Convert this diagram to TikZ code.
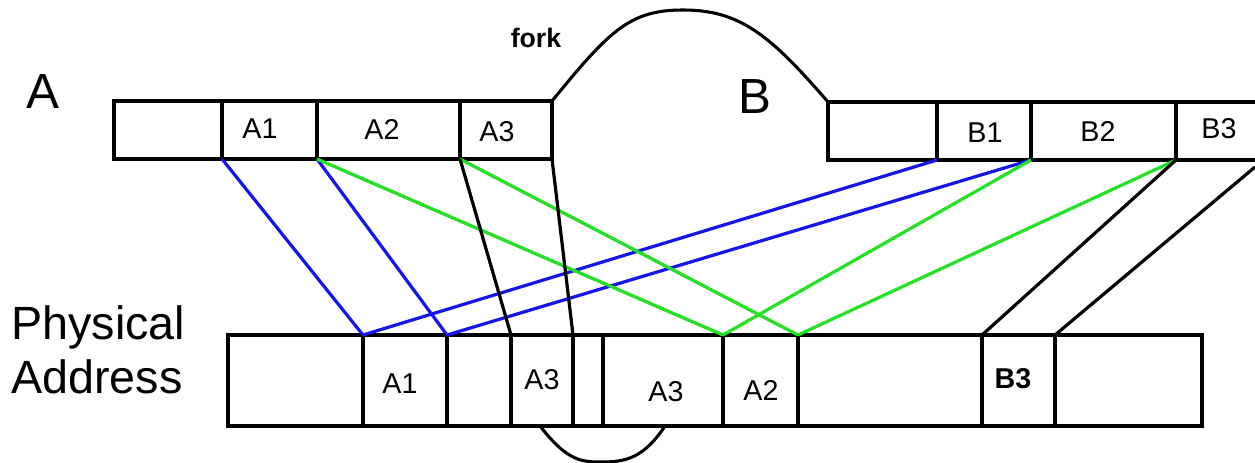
\documentclass[tikz,border=0pt]{standalone}
\usepackage{fontspec}
\setmainfont{Liberation Sans}
\definecolor{mapblue}{RGB}{20,20,235}
\definecolor{mapgreen}{RGB}{35,225,35}
\begin{document}
\begin{tikzpicture}[x=0.75pt,y=-0.75pt,
  cell/.style={draw,line width=2.7pt,inner sep=0pt,outer sep=0pt,anchor=north west},
  celltext/.style={inner sep=0pt,font=\fontsize{21.5}{24}\selectfont},
  bigtext/.style={inner sep=0pt,font=\fontsize{37}{40}\selectfont},
  blueline/.style={draw=mapblue,line width=2.4pt},
  greenline/.style={draw=mapgreen,line width=2.4pt},
  blackline/.style={draw=black,line width=2.4pt},
  shadowline/.style={draw=black,line width=1.8pt},
  forkline/.style={draw=black,line width=2.3pt}]
\clip (0,0) rectangle (1255,463);

% virtual pages of process A
\node[cell,minimum width=108pt*0.75,minimum height=58pt*0.75] (a0) at (114,101) {};
\node[cell,minimum width=95pt*0.75,minimum height=58pt*0.75] (a1) at (222,101) {};
\node[cell,minimum width=143pt*0.75,minimum height=58pt*0.75] (a2) at (317,101) {};
\node[cell,minimum width=92pt*0.75,minimum height=58pt*0.75] (a3) at (460,101) {};

% virtual pages of process B
\node[cell,minimum width=109pt*0.75,minimum height=58pt*0.75] (b0) at (828,102) {};
\node[cell,minimum width=94pt*0.75,minimum height=58pt*0.75] (b1) at (937,102) {};
\node[cell,minimum width=145pt*0.75,minimum height=58pt*0.75] (b2) at (1031,102) {};
\node[cell,minimum width=100pt*0.75,minimum height=58pt*0.75] (b3) at (1176,102) {};

% physical frames
\node[cell,minimum width=135pt*0.75,minimum height=91pt*0.75] (p0) at (228,335) {};
\node[cell,minimum width=84pt*0.75,minimum height=91pt*0.75] (p1) at (363,335) {};
\node[cell,minimum width=64pt*0.75,minimum height=91pt*0.75] (p2) at (447,335) {};
\node[cell,minimum width=62pt*0.75,minimum height=91pt*0.75] (p3) at (511,335) {};
\node[cell,minimum width=30pt*0.75,minimum height=91pt*0.75] (p4) at (573,335) {};
\node[cell,minimum width=120pt*0.75,minimum height=91pt*0.75] (p5) at (603,335) {};
\node[cell,minimum width=75pt*0.75,minimum height=91pt*0.75] (p6) at (723,335) {};
\node[cell,minimum width=184pt*0.75,minimum height=91pt*0.75] (p7) at (798,335) {};
\node[cell,minimum width=73pt*0.75,minimum height=91pt*0.75] (p8) at (982,335) {};
\node[cell,minimum width=147pt*0.75,minimum height=91pt*0.75] (p9) at (1055,335) {};

% page labels
\node[celltext] (ta1) at (260,129) {A1};
\node[celltext] (ta2) at (382,129) {A2};
\node[celltext] (ta3) at (497,132) {A3};
\node[celltext] (tb1) at (985,133) {B1};
\node[celltext] (tb2) at (1098,131) {B2};
\node[celltext] (tb3) at (1219,129) {B3};
\node[celltext] (tp1) at (400,384) {A1};
\node[celltext] (tp3) at (542,380) {A3};
\node[celltext] (tp5) at (666,392) {A3};
\node[celltext] (tp6) at (761,390) {A2};
\node[celltext,font=\fontsize{21.5}{24}\selectfont\bfseries] (tp8) at (1013,379) {B3};

% titles
\node[bigtext] (titleA) at (43,92) {A};
\node[bigtext] (titleB) at (755,97) {B};
\node[inner sep=0pt,anchor=base west,font=\fontsize{35}{40}\selectfont] (phys) at (11,339) {Physical};
\node[inner sep=0pt,anchor=base west,font=\fontsize{35}{40}\selectfont] (addr) at (11,393) {Address};
\node[inner sep=0pt,font=\fontsize{20}{24}\selectfont\bfseries] (fork) at (536,38) {fork};

% fork arc joining the two address spaces
\draw[forkline] (a3.north east) .. controls (610,30) and (630,10) .. (683,10)
  .. controls (740,10) and (770,35) .. (b0.north west);
% arc joining the two frames holding A3
\draw[forkline] (540,426) .. controls (568,462) and (582,462) .. (603,462)
  .. controls (628,462) and (645,456) .. (665,426);

% mappings of A1 and B1 (shared frame), A2 and B2
\draw[blueline] (a1.south west) -- (p1.north west);
\draw[blueline] (a2.south west) -- (p2.north west);
\draw[blueline] (b1.south west) -- (p1.north west);
\draw[blueline] (b2.south west) -- (p2.north west);

% copy-on-write mappings
\draw[shadowline,yshift=-2pt] (a2.south west) -- (p6.north west);
\draw[greenline] (a2.south west) -- (p6.north west);
\draw[shadowline,yshift=2pt] (a3.south west) -- (p7.north west);
\draw[greenline] (a3.south west) -- (p7.north west);
\draw[greenline] (b2.south west) -- (p6.north west);
\draw[greenline] (b3.south west) -- (p7.north west);

% remaining mappings
\draw[blackline] (a3.south west) -- (p3.north west);
\draw[blackline] (a3.south east) -- (p4.north west);
\draw[blackline] (b3.south west) -- (p8.north west);
\coordinate (bedge) at (1255,167);
\draw[blackline] (bedge) -- (p9.north west);
\end{tikzpicture}
\end{document}
